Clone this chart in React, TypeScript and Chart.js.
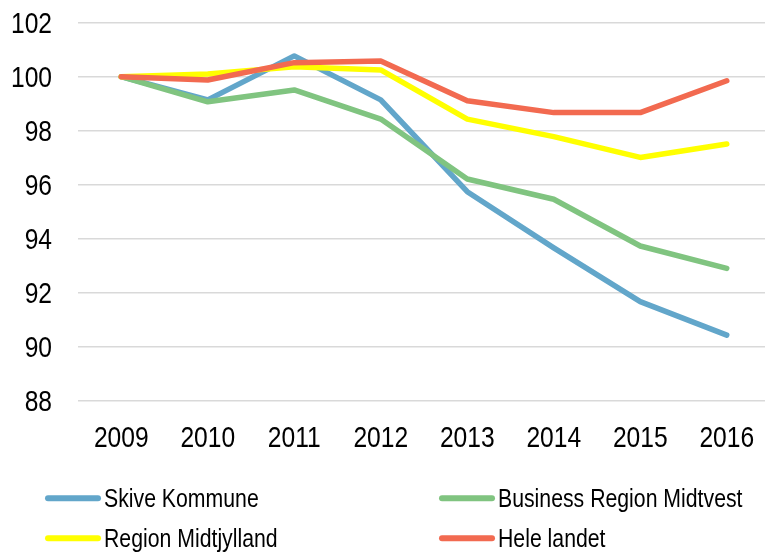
import React, { useEffect, useRef } from "react";
import { Chart, registerables } from "chart.js";

Chart.register(...registerables);

const years = ["2009", "2010", "2011", "2012", "2013", "2014", "2015", "2016"];
const skive = [100, 99.14, 100.77, 99.14, 95.74, 93.66, 91.67, 90.43];
const business = [100, 99.07, 99.51, 98.43, 96.21, 95.46, 93.73, 92.9];
const regionMidt = [100, 100.1, 100.37, 100.25, 98.43, 97.78, 97.01, 97.51];
const heleLandet = [100, 99.88, 100.52, 100.58, 99.11, 98.67, 98.67, 99.85];
const seriesNames = ["Skive Kommune", "Business Region Midtvest", "Region Midtjylland", "Hele landet"];
const seriesColors = ["#62A6CA", "#80C480", "#FFFF00", "#F26A50"];

const FONT = "'Liberation Sans', Arial, sans-serif";
const NARROW = 0.82;

// draw text horizontally condensed (Arial Narrow look-alike)
function narrowText(ctx: any, text: string, x: number, y: number, align: "left" | "right" | "center", scale: number) {
  const w = ctx.measureText(text).width * scale;
  let left = x;
  if (align === "right") left = x - w;
  else if (align === "center") left = x - w / 2;
  ctx.save();
  ctx.translate(left, y);
  ctx.scale(scale, 1);
  ctx.textAlign = "left";
  ctx.fillText(text, 0, 0);
  ctx.restore();
}

const labelPlugin = {
  id: "narrowLabels",
  afterDraw(chart: any) {
    const ctx = chart.ctx;
    const xs = chart.scales.x;
    const ys = chart.scales.y;
    const area = chart.chartArea;
    ctx.save();
    ctx.fillStyle = "#000";
    ctx.textBaseline = "alphabetic";
    ctx.font = `30px ${FONT}`;
    ys.ticks.forEach((t: any) => {
      const y = ys.getPixelForValue(t.value);
      narrowText(ctx, String(t.value), area.left - 26, y + 10.5, "right", NARROW);
    });
    xs.ticks.forEach((t: any, i: number) => {
      const x = xs.getPixelForTick(i);
      narrowText(ctx, String(xs.getLabelForValue(t.value)), x, area.bottom + 46, "center", NARROW);
    });

    // legend, 2 x 2 grid
    const colX = [45, 439];
    const rowY = [498.3, 538.3];
    const sample = 56;
    ctx.font = `25px ${FONT}`;
    chart.data.datasets.forEach((ds: any, i: number) => {
      const x = colX[i % 2];
      const y = rowY[Math.floor(i / 2)];
      ctx.strokeStyle = ds.borderColor;
      ctx.lineWidth = 6;
      ctx.lineCap = "round";
      ctx.beginPath();
      ctx.moveTo(x + 3, y);
      ctx.lineTo(x + sample - 3, y);
      ctx.stroke();
      narrowText(ctx, ds.label, x + sample + 3, y + 9, "left", 0.85);
    });
    ctx.restore();
  },
};

export default function App() {
  const ref = useRef<HTMLCanvasElement>(null);
  useEffect(() => {
    if (!ref.current) return;
    const data = [skive, business, regionMidt, heleLandet];
    const chart = new Chart(ref.current, {
      type: "line",
      data: {
        labels: years,
        datasets: data.map((d, i) => ({
          label: seriesNames[i],
          data: d,
          borderColor: seriesColors[i],
          backgroundColor: seriesColors[i],
          borderWidth: 5.5,
          borderCapStyle: "round",
          borderJoinStyle: "round",
          pointRadius: 0,
          tension: 0,
          order: 3 - i,
        })),
      },
      options: {
        animation: false,
        responsive: true,
        maintainAspectRatio: false,
        layout: { padding: { top: 22.7, right: 0, left: 0, bottom: 0 } },
        plugins: { legend: { display: false }, tooltip: { enabled: false } },
        scales: {
          x: {
            offset: true,
            grid: { display: false, drawTicks: false },
            border: { display: false },
            ticks: { display: false, autoSkip: false, maxRotation: 0 },
            afterFit: (s: any) => {
              s.height = 151.3;
              s.paddingLeft = 0;
              s.paddingRight = 0;
              s.paddingTop = 0;
              s.paddingBottom = 0;
            },
          },
          y: {
            min: 88,
            max: 102,
            grid: { color: "#D9D9D9", lineWidth: 1.5, drawTicks: false },
            border: { display: false },
            ticks: { display: false, stepSize: 2 },
            afterFit: (s: any) => {
              s.width = 78;
              s.paddingLeft = 0;
              s.paddingRight = 0;
              s.paddingTop = 0;
              s.paddingBottom = 0;
            },
          },
        },
      },
      plugins: [labelPlugin],
    });
    return () => chart.destroy();
  }, []);
  return (
    <div style={{ position: "fixed", left: 0, top: 0, width: 765, height: 552, overflow: "hidden", background: "#fff" }}>
      <div style={{ position: "relative", width: 770, height: 552 }}>
        <canvas ref={ref} />
      </div>
    </div>
  );
}
